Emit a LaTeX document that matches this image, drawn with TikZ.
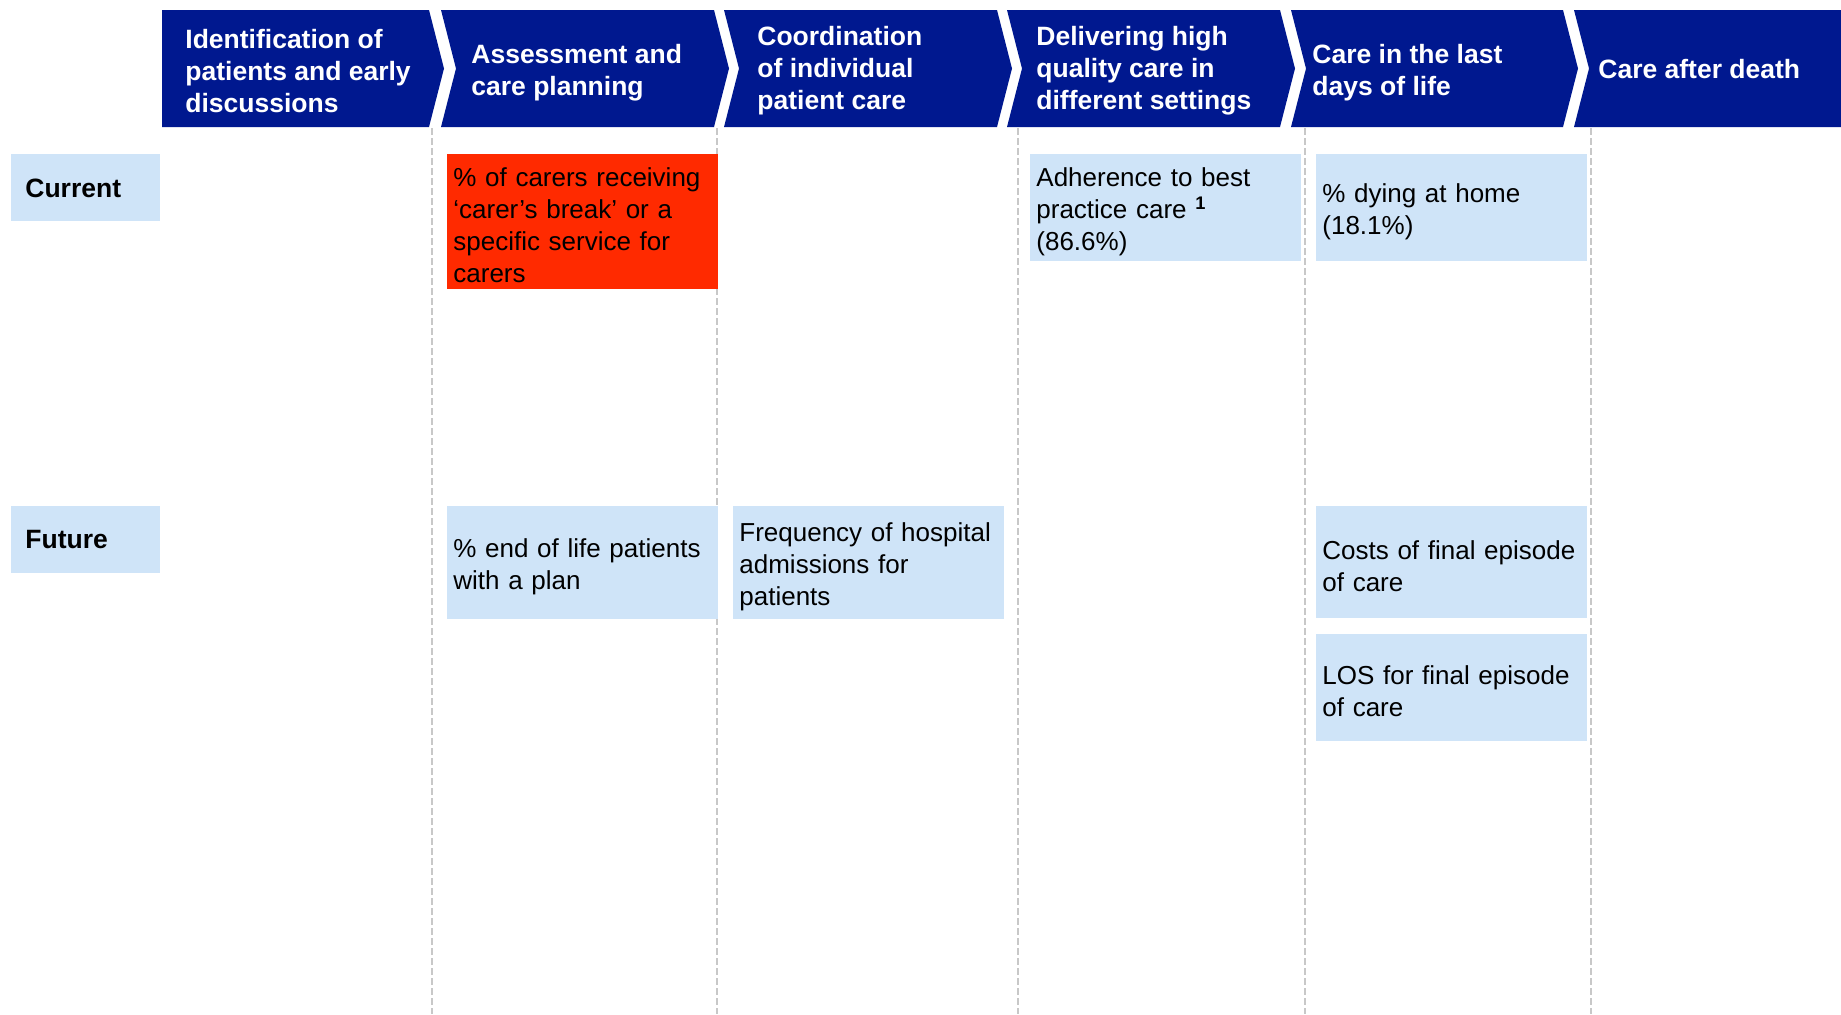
\documentclass[tikz,border=0pt]{standalone}
\usepackage{fontspec}
\setmainfont{Liberation Sans}
\usetikzlibrary{positioning}
\definecolor{navy}{HTML}{00188F}
\definecolor{pale}{HTML}{CFE4F8}
\definecolor{alarm}{HTML}{FF2A00}
\definecolor{rulegray}{HTML}{C8C8C8}

\begin{document}
\begin{tikzpicture}[x=0.5pt,y=-0.5pt,font=\fontsize{13}{16}\selectfont,
        phase/.style={anchor=west,align=left,text=white,inner sep=0pt,font=\fontsize{13.25}{16}\selectfont\bfseries},
        row/.style={anchor=north west,fill=pale,minimum height=33.5pt,text width=60.5pt,inner xsep=7pt,align=left,font=\fontsize{13.25}{16}\selectfont\bfseries},
        metric/.style={anchor=north west,fill=pale,text width=129.5pt,inner xsep=3pt,inner ysep=0pt,align=left,
            execute at begin node=\rule{0pt}{13pt}},
        divider/.style={draw=rulegray,line width=0.8pt,dash pattern=on 3.3pt off 1.7pt}]
        \useasboundingbox (0,0) rectangle (1841,1014);
        % phase chevrons
        \fill[navy] (162,10) -- (429,10) -- ++(15,58.5) -- (429,127) -- (162,127) -- cycle;
        \foreach \l/\r in {441/714,724/997,1007/1280,1291/1563}
            \fill[navy] (\l,10) -- (\r,10) -- ++(15,58.5) -- (\r,127) -- (\l,127) -- ++(15,-58.5) -- cycle;
        \fill[navy] (1574,10) -- (1841,10) -- (1841,127) -- (1574,127) -- ++(15,-58.5) -- cycle;
        \foreach \x in {432,717,1018,1305,1591}
            \draw[divider] (\x,128) -- (\x,1014);
        \node[phase] (h_1) at (185,71) {Identification of\\patients and early\\discussions};
        \node[phase] (h_2) at (471,73) {Assessment and\\care planning};
        \node[phase] (h_3) at (757,71) {Coordination\\of individual\\patient care};
        \node[phase] (h_4) at (1036,71) {Delivering high\\quality care in\\different settings};
        \node[phase] (h_5) at (1312,73) {Care in the last\\days of life};
        \node[phase] (h_6) at (1598,69.5) {Care after death};
        % rows
        \node[row] (cur) at (11,154) {Current};
        \node[row] (fut) at (11,506) {Future};
        \node[metric,fill=alarm,minimum height=67.5pt] (m_1) at (447,154) {\% of carers receiving\\‘carer’s break’ or a\\specific service for\\carers};
        \node[metric,minimum height=53.5pt] (m_2) at (1030,154) {Adherence to best\\practice care \textsuperscript{\bfseries 1}\\(86.6\%)};
        \node[metric,minimum height=53.5pt] (m_3) at (1316,154) {\% dying at home\\(18.1\%)};
        \node[metric,minimum height=56.5pt] (m_4) at (447,506) {\% end of life patients\\with a plan};
        \node[metric,minimum height=56.5pt] (m_5) at (733,506) {Frequency of hospital\\admissions for\\patients};
        \node[metric,minimum height=56pt] (m_6) at (1316,506) {Costs of final episode\\of care};
        \node[metric,minimum height=53.5pt,below=7.5pt of m_6] (m_7) {LOS for final episode\\of care};
    \end{tikzpicture}
\end{document}
